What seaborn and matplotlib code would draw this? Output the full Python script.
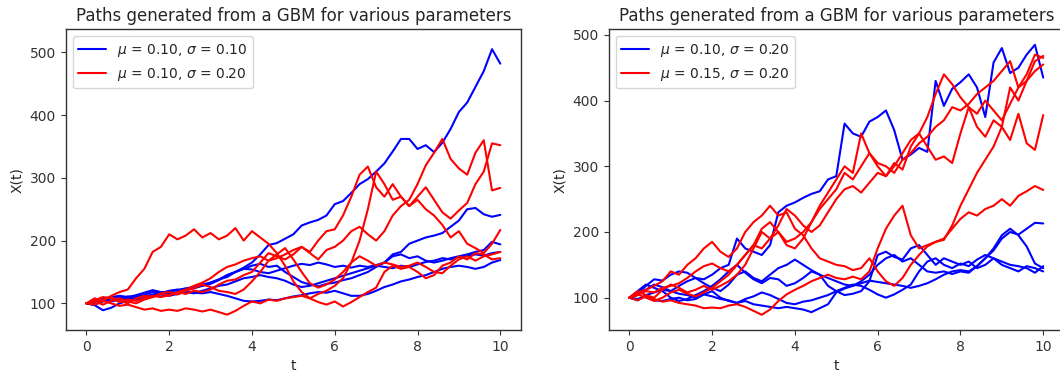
import numpy as np
import pandas as pd
import matplotlib
matplotlib.use("Agg")
import matplotlib.pyplot as plt
from matplotlib.lines import Line2D
import seaborn as sns

# time grid shared by all paths (step 0.2)
t_grid = np.round(np.arange(0, 10.0001, 0.2), 1)

# ---- left panel: mu = 0.10, sigma = 0.10 (blue) ----
left_blue_1 = [100, 97, 89, 93, 100, 104, 107, 111, 114, 117, 119, 121, 124, 126, 128, 131, 137, 145, 150, 157,
               165, 178, 193, 196, 203, 210, 224, 229, 233, 240, 258, 263, 276, 290, 298, 310, 323, 342, 362, 362,
               346, 352, 341, 356, 378, 405, 420, 445, 470, 505, 482]
left_blue_2 = [100, 104, 106, 104, 108, 111, 110, 114, 118, 116, 120, 122, 121, 126, 130, 133, 138, 145, 150, 155,
               160, 163, 158, 160, 150, 142, 134, 130, 127, 131, 133, 137, 140, 145, 150, 158, 165, 178, 182, 195,
               200, 205, 208, 212, 222, 232, 250, 252, 242, 238, 241]
left_blue_3 = [100, 102, 108, 110, 112, 110, 113, 117, 121, 118, 115, 118, 122, 124, 128, 133, 138, 142, 150, 155,
               154, 150, 148, 152, 156, 160, 163, 161, 165, 162, 158, 160, 157, 160, 158, 161, 165, 175, 178, 172,
               175, 168, 165, 168, 172, 175, 178, 182, 185, 198, 194]
left_blue_4 = [100, 102, 104, 103, 106, 108, 107, 110, 113, 115, 117, 116, 118, 117, 116, 118, 115, 112, 108, 104,
               103, 104, 106, 105, 108, 111, 113, 116, 118, 117, 120, 116, 112, 112, 115, 120, 126, 130, 135, 138,
               142, 145, 150, 155, 158, 160, 158, 155, 158, 165, 169]
left_blue_5 = [100, 98, 103, 108, 110, 107, 111, 109, 112, 114, 112, 115, 118, 116, 120, 124, 128, 130, 135, 140,
               142, 145, 142, 140, 136, 130, 126, 128, 132, 136, 140, 144, 148, 152, 156, 160, 158, 156, 160, 158,
               162, 166, 168, 172, 170, 174, 176, 178, 176, 180, 182]

# ---- left panel: mu = 0.10, sigma = 0.20 (red) ----
left_red_1 = [100, 108, 104, 112, 118, 122, 140, 155, 182, 190, 210, 202, 208, 218, 205, 212, 202, 208, 220, 200,
              215, 205, 195, 180, 160, 135, 118, 108, 102, 98, 103, 95, 102, 110, 118, 125, 150, 160, 155, 158,
              150, 140, 145, 160, 165, 175, 170, 180, 178, 170, 172]
left_red_2 = [100, 98, 104, 100, 96, 98, 94, 90, 92, 88, 90, 88, 92, 90, 87, 90, 86, 82, 88, 96,
              103, 100, 106, 104, 108, 110, 112, 108, 115, 120, 128, 140, 165, 200, 250, 310, 290, 265, 270, 255,
              265, 250, 240, 225, 205, 215, 195, 188, 180, 195, 217]
left_red_3 = [100, 105, 110, 108, 102, 106, 104, 108, 112, 110, 113, 118, 122, 128, 133, 140, 150, 158, 162, 168,
              172, 175, 168, 172, 178, 185, 190, 182, 200, 215, 218, 240, 270, 305, 318, 285, 270, 290, 270, 255,
              270, 285, 265, 245, 235, 248, 260, 290, 310, 355, 352]
left_red_4 = [100, 103, 98, 104, 108, 103, 100, 106, 110, 115, 112, 118, 115, 120, 118, 122, 130, 136, 138, 145,
              150, 165, 180, 175, 170, 178, 190, 180, 170, 185, 190, 200, 215, 222, 210, 200, 215, 240, 255, 265,
              290, 320, 340, 362, 330, 315, 305, 340, 360, 280, 284]
left_red_5 = [100, 102, 106, 110, 104, 100, 108, 112, 110, 116, 118, 114, 120, 124, 130, 126, 120, 118, 115, 122,
              135, 150, 168, 178, 188, 170, 150, 132, 125, 130, 138, 150, 165, 175, 168, 160, 165, 162, 158, 160,
              165, 158, 150, 148, 160, 170, 175, 168, 175, 178, 182]

# ---- right panel: mu = 0.10, sigma = 0.20 (blue) ----
right_blue_1 = [100, 104, 112, 120, 116, 110, 118, 125, 130, 128, 135, 145, 150, 190, 175, 170, 165, 180, 230, 240,
                245, 252, 258, 262, 280, 285, 365, 350, 345, 368, 375, 385, 355, 310, 318, 328, 322, 430, 392, 418,
                428, 440, 420, 375, 458, 480, 442, 450, 470, 485, 435]
right_blue_2 = [100, 96, 104, 108, 112, 110, 106, 104, 100, 105, 102, 98, 96, 92, 95, 90, 88, 86, 84, 86,
                84, 82, 78, 84, 90, 108, 114, 118, 122, 126, 124, 122, 120, 118, 115, 118, 122, 128, 135, 140,
                142, 140, 148, 160, 172, 190, 200, 196, 205, 214, 213]
right_blue_3 = [100, 105, 118, 128, 126, 135, 140, 138, 130, 122, 115, 110, 120, 135, 140, 130, 125, 135, 145, 150,
                158, 150, 142, 135, 130, 125, 120, 118, 125, 135, 150, 160, 165, 155, 160, 150, 140, 138, 140, 136,
                140, 138, 148, 160, 175, 195, 205, 195, 178, 152, 145]
right_blue_4 = [100, 110, 120, 115, 110, 100, 95, 98, 104, 110, 118, 128, 140, 150, 138, 128, 122, 130, 128, 118,
                122, 130, 140, 135, 118, 110, 104, 106, 110, 125, 165, 170, 162, 158, 175, 180, 165, 150, 160, 155,
                150, 155, 145, 150, 160, 155, 150, 148, 145, 138, 148]
right_blue_5 = [100, 98, 102, 96, 95, 98, 100, 96, 98, 105, 110, 100, 95, 92, 98, 102, 108, 104, 98, 92,
                90, 94, 96, 100, 104, 110, 115, 120, 118, 112, 105, 100, 105, 112, 120, 140, 155, 160, 150, 145,
                152, 148, 158, 165, 160, 150, 145, 140, 148, 145, 140]

# ---- right panel: mu = 0.15, sigma = 0.20 (red) ----
right_red_1 = [100, 108, 112, 118, 125, 140, 135, 150, 160, 175, 185, 170, 162, 175, 200, 215, 225, 240, 225, 230,
               205, 195, 175, 160, 155, 150, 148, 142, 145, 160, 140, 125, 118, 130, 150, 165, 178, 185, 188, 210,
               240, 265, 290, 310, 330, 360, 420, 400, 430, 460, 468]
right_red_2 = [100, 104, 110, 108, 115, 118, 122, 130, 140, 148, 152, 145, 140, 150, 165, 180, 175, 190, 200, 185,
               190, 200, 215, 240, 260, 280, 300, 290, 350, 320, 300, 285, 300, 320, 340, 350, 330, 310, 315, 305,
               350, 390, 360, 345, 370, 360, 340, 380, 335, 325, 378]
right_red_3 = [100, 110, 104, 100, 112, 120, 115, 108, 112, 118, 112, 118, 125, 135, 150, 175, 200, 190, 210, 235,
               225, 210, 200, 210, 230, 250, 265, 270, 260, 275, 290, 285, 305, 295, 330, 350, 375, 410, 440, 425,
               405, 390, 380, 400, 385, 370, 395, 420, 430, 445, 455]
right_red_4 = [100, 96, 102, 98, 94, 96, 92, 90, 88, 84, 85, 84, 88, 90, 86, 80, 74, 82, 95, 105,
               112, 118, 125, 130, 135, 130, 128, 132, 128, 140, 175, 205, 225, 240, 195, 175, 180, 185, 190, 205,
               220, 230, 225, 235, 240, 250, 240, 255, 262, 270, 264]
right_red_5 = [100, 105, 100, 95, 100, 108, 112, 106, 102, 108, 115, 125, 135, 150, 165, 180, 205, 215, 200, 180,
               175, 190, 215, 235, 250, 265, 290, 280, 300, 320, 305, 300, 290, 310, 320, 335, 345, 360, 370, 390,
               385, 395, 410, 420, 430, 445, 460, 420, 440, 470, 465]

left_labels = [r"$\mu$ = 0.10, $\sigma$ = 0.10", r"$\mu$ = 0.10, $\sigma$ = 0.20"]
right_labels = [r"$\mu$ = 0.10, $\sigma$ = 0.20", r"$\mu$ = 0.15, $\sigma$ = 0.20"]
x_ticks = [0, 2, 4, 6, 8, 10]
y_ticks = [100, 200, 300, 400, 500]
panel_title = "Paths generated from a GBM for various parameters"

left_groups = [left_blue_1, left_blue_2, left_blue_3, left_blue_4, left_blue_5], \
              [left_red_1, left_red_2, left_red_3, left_red_4, left_red_5]
right_groups = [right_blue_1, right_blue_2, right_blue_3, right_blue_4, right_blue_5], \
               [right_red_1, right_red_2, right_red_3, right_red_4, right_red_5]


def to_frame(groups, labels):
    rows = []
    pid = 0
    for paths, lab in zip(groups, labels):
        for p in paths:
            for tt, v in zip(t_grid, p):
                rows.append((tt, v, pid, lab))
            pid += 1
    return pd.DataFrame(rows, columns=["t", "X", "path", "params"])


sns.set_style("ticks")
plt.rcParams["axes.edgecolor"] = "#333333"
plt.rcParams["text.color"] = "#262626"
plt.rcParams["xtick.color"] = "#333333"
plt.rcParams["ytick.color"] = "#333333"
plt.rcParams["axes.labelcolor"] = "#262626"
plt.rcParams["font.family"] = ["DejaVu Sans"]

fig = plt.figure(figsize=(10.6, 3.74), dpi=100)
ax_l = fig.add_axes([0.062, 0.1176, 0.4295, 0.804])
ax_r = fig.add_axes([0.5742, 0.1176, 0.4295, 0.804])

colors = ["blue", "red"]
for ax, groups, labels, ylim in [(ax_l, left_groups, left_labels, (57.5, 536.7)),
                                 (ax_r, right_groups, right_labels, (50.8, 508.5))]:
    df = to_frame(groups, labels)
    sns.lineplot(data=df, x="t", y="X", hue="params", units="path", estimator=None,
                 palette=dict(zip(labels, colors)), hue_order=labels,
                 linewidth=1.5, legend=False, ax=ax, sort=False)
    ax.set_xlim(-0.5, 10.5)
    ax.set_ylim(*ylim)
    ax.set_xticks(x_ticks)
    ax.set_yticks(y_ticks)
    ax.set_xlabel("t")
    ax.set_ylabel("X(t)")
    ax.set_title(panel_title, fontsize=12)
    for s in ax.spines.values():
        s.set_visible(True)
        s.set_linewidth(1.0)
    handles = [Line2D([0], [0], color=c, lw=1.5) for c in colors]
    ax.legend(handles, labels, loc="upper left", fontsize=10, frameon=True)

fig.savefig("out.png", dpi=100)
